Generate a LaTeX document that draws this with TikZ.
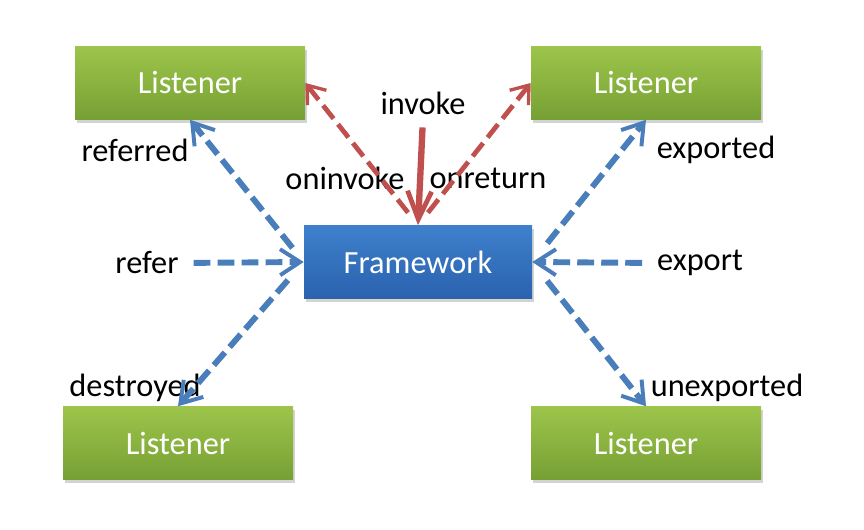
\documentclass[tikz,border=0pt]{standalone}
\usepackage{fontspec}
\setmainfont{Carlito}
\usetikzlibrary{arrows.meta,shadows}

\definecolor{gtop}{HTML}{9DC54B}
\definecolor{gbot}{HTML}{76A034}
\definecolor{btop}{HTML}{3F80CC}
\definecolor{bbot}{HTML}{2A62AE}
\definecolor{linkblue}{HTML}{4A7EBB}
\definecolor{linkred}{HTML}{C0504D}

\tikzset{
  listener/.style={minimum width=5.75cm, minimum height=1.825cm, top color=gtop, bottom color=gbot,
    text=white, drop shadow={opacity=0.35, shadow xshift=0.04cm, shadow yshift=-0.08cm}},
  framework/.style={listener, minimum width=5.7cm, top color=btop, bottom color=bbot},
  lbl/.style={inner sep=2pt},
  blueline/.style={draw=linkblue, line width=4.2pt, dash pattern=on 0.42cm off 0.18cm,
    -{Straight Barb[length=0.5cm, width=0.65cm, line width=2.8pt]}},
  redline/.style={blueline, draw=linkred, line width=3.4pt,
    -{Straight Barb[length=0.4cm, width=0.6cm, line width=2.4pt]}},
  invokeline/.style={draw=linkred, line width=4.5pt,
    -{Straight Barb[length=0.7cm, width=0.6cm, line width=3.4pt]}}
}

\begin{document}
\begin{tikzpicture}[font=\fontsize{23}{28}\selectfont]
\useasboundingbox (0,0) rectangle (21.6,13.225);
% boxes
\node[listener] (tl) at (4.75,11.15) {Listener};
\node[listener] (tr) at (16.15,11.15) {Listener};
\node[listener] (bl) at (4.45,2.15) {Listener};
\node[listener] (br) at (16.15,2.15) {Listener};
\node[framework] (fw) at (10.45,6.675) {Framework};
% labels
\node[lbl] (invoke) at (10.575,10.65) {invoke};
\node[lbl] (oninvoke) at (8.625,8.775) {oninvoke};
\node[lbl] (onreturn) at (12.2,8.775) {onreturn};
\node[lbl] (referred) at (3.375,9.475) {referred};
\node[lbl] (refer) at (3.675,6.65) {refer};
\node[lbl] (destroyed) at (3.375,3.525) {destroyed};
\node[lbl] (exported) at (17.9,9.475) {exported};
\node[lbl] (export) at (17.5,6.65) {export};
\node[lbl] (unexported) at (18.175,3.525) {unexported};
% red links
\draw[redline, shorten <=0.4cm] (fw.north) -- (tl.east);
\draw[redline, shorten <=0.4cm] (fw.north) -- (tr.west);
\draw[invokeline, shorten <=0.25cm] (invoke.south) -- (fw.north);
% blue links
\draw[blueline, shorten <=0.45cm] (fw.west) -- (tl.south);
\draw[blueline, shorten <=0.6cm] (fw.west) -- (bl.north);
\draw[blueline, shorten <=0.6cm] (fw.east) -- (tr.south);
\draw[blueline, shorten <=0.6cm] (fw.east) -- (br.north);
\draw[blueline, shorten <=0.3cm] (refer.east) -- (fw.west);
\draw[blueline, shorten <=0.3cm] (export.west) -- (fw.east);
\end{tikzpicture}
\end{document}
